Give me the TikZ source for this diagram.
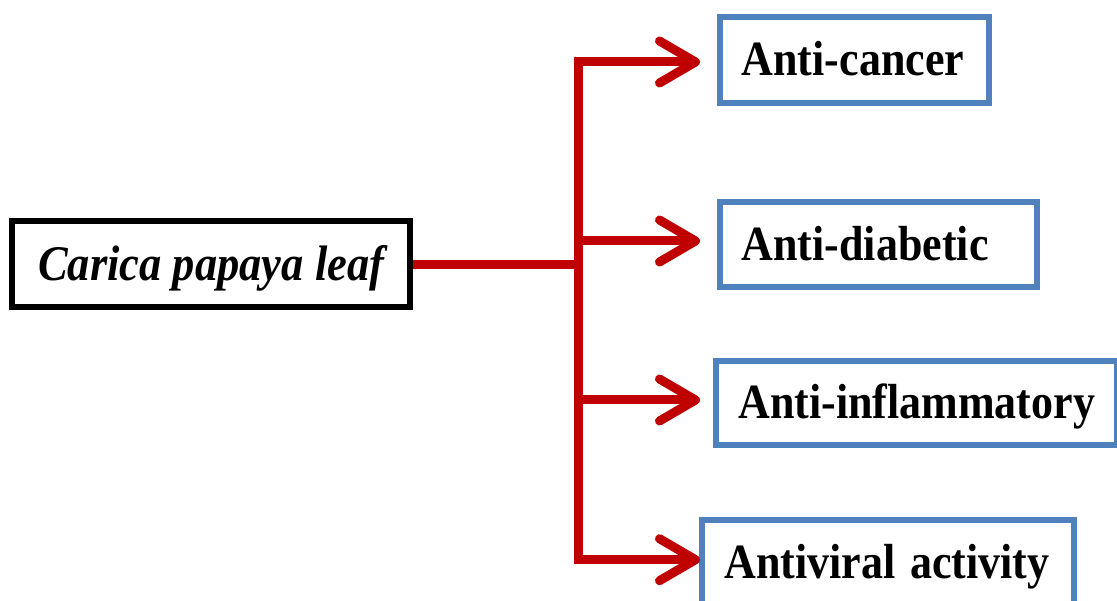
\documentclass[tikz,border=0pt]{standalone}
\usepackage{fontspec}
\usepackage{graphicx}
\setmainfont{Liberation Serif}
\usetikzlibrary{arrows.meta}
\definecolor{darkred}{HTML}{C00000}
\definecolor{boxblue}{HTML}{4F81BD}
\newcommand{\tall}[1]{\scalebox{1}[1.12]{#1}}
\begin{document}
\begin{tikzpicture}[x=1pt,y=-1pt,
  srcbox/.style={draw=black,line width=6pt,minimum width=398pt,minimum height=86pt,inner sep=0pt,
    text height=32pt,text depth=0pt,font=\fontsize{44.5}{50}\selectfont\bfseries\itshape},
  effbox/.style={draw=boxblue,line width=6pt,inner xsep=22pt,inner ysep=0pt,align=left,
    text height=32pt,text depth=0pt,font=\fontsize{44}{50}\selectfont\bfseries,anchor=west},
  link/.style={draw=darkred,line width=9pt},
  arr/.style={link,-{Straight Barb[length=36pt,width=42pt,round]}}]
\useasboundingbox (0,0) rectangle (1117,601);
\node[srcbox] (src) at (211.2,264.2) {\tall{Carica papaya leaf}};
\node[effbox,text width=225pt,minimum height=86pt] (b1) at (716.7,60) {\tall{Anti-cancer}};
\node[effbox,text width=273.3pt,minimum height=85pt] (b2) at (716.7,244.5) {\tall{Anti-diabetic}};
\node[effbox,text width=356.7pt,minimum height=83.4pt] (b3) at (713.3,403) {\tall{Anti-inflammatory}};
\node[effbox,text width=327.7pt,minimum height=86pt] (b4) at (699.3,562.7) {\tall{Antiviral activity}};
\coordinate (tr) at (578,0);
\coordinate (tip) at (700,0);
\coordinate (t1) at ([yshift=-2pt]b1.west -| tip);
\coordinate (t2) at ([yshift=3.5pt]b2.west -| tip);
\coordinate (t3) at ([yshift=3pt]b3.west -| tip);
\coordinate (t4) at ([yshift=3pt]b4.west -| tip);
\draw[link] (src.east) -- (src.east -| tr) coordinate (m);
\draw[arr] (m) |- (t1);
\draw[arr] (m) |- (t4);
\draw[arr] (t2 -| m) -- (t2);
\draw[arr] (t3 -| m) -- (t3);
\end{tikzpicture}
\end{document}
